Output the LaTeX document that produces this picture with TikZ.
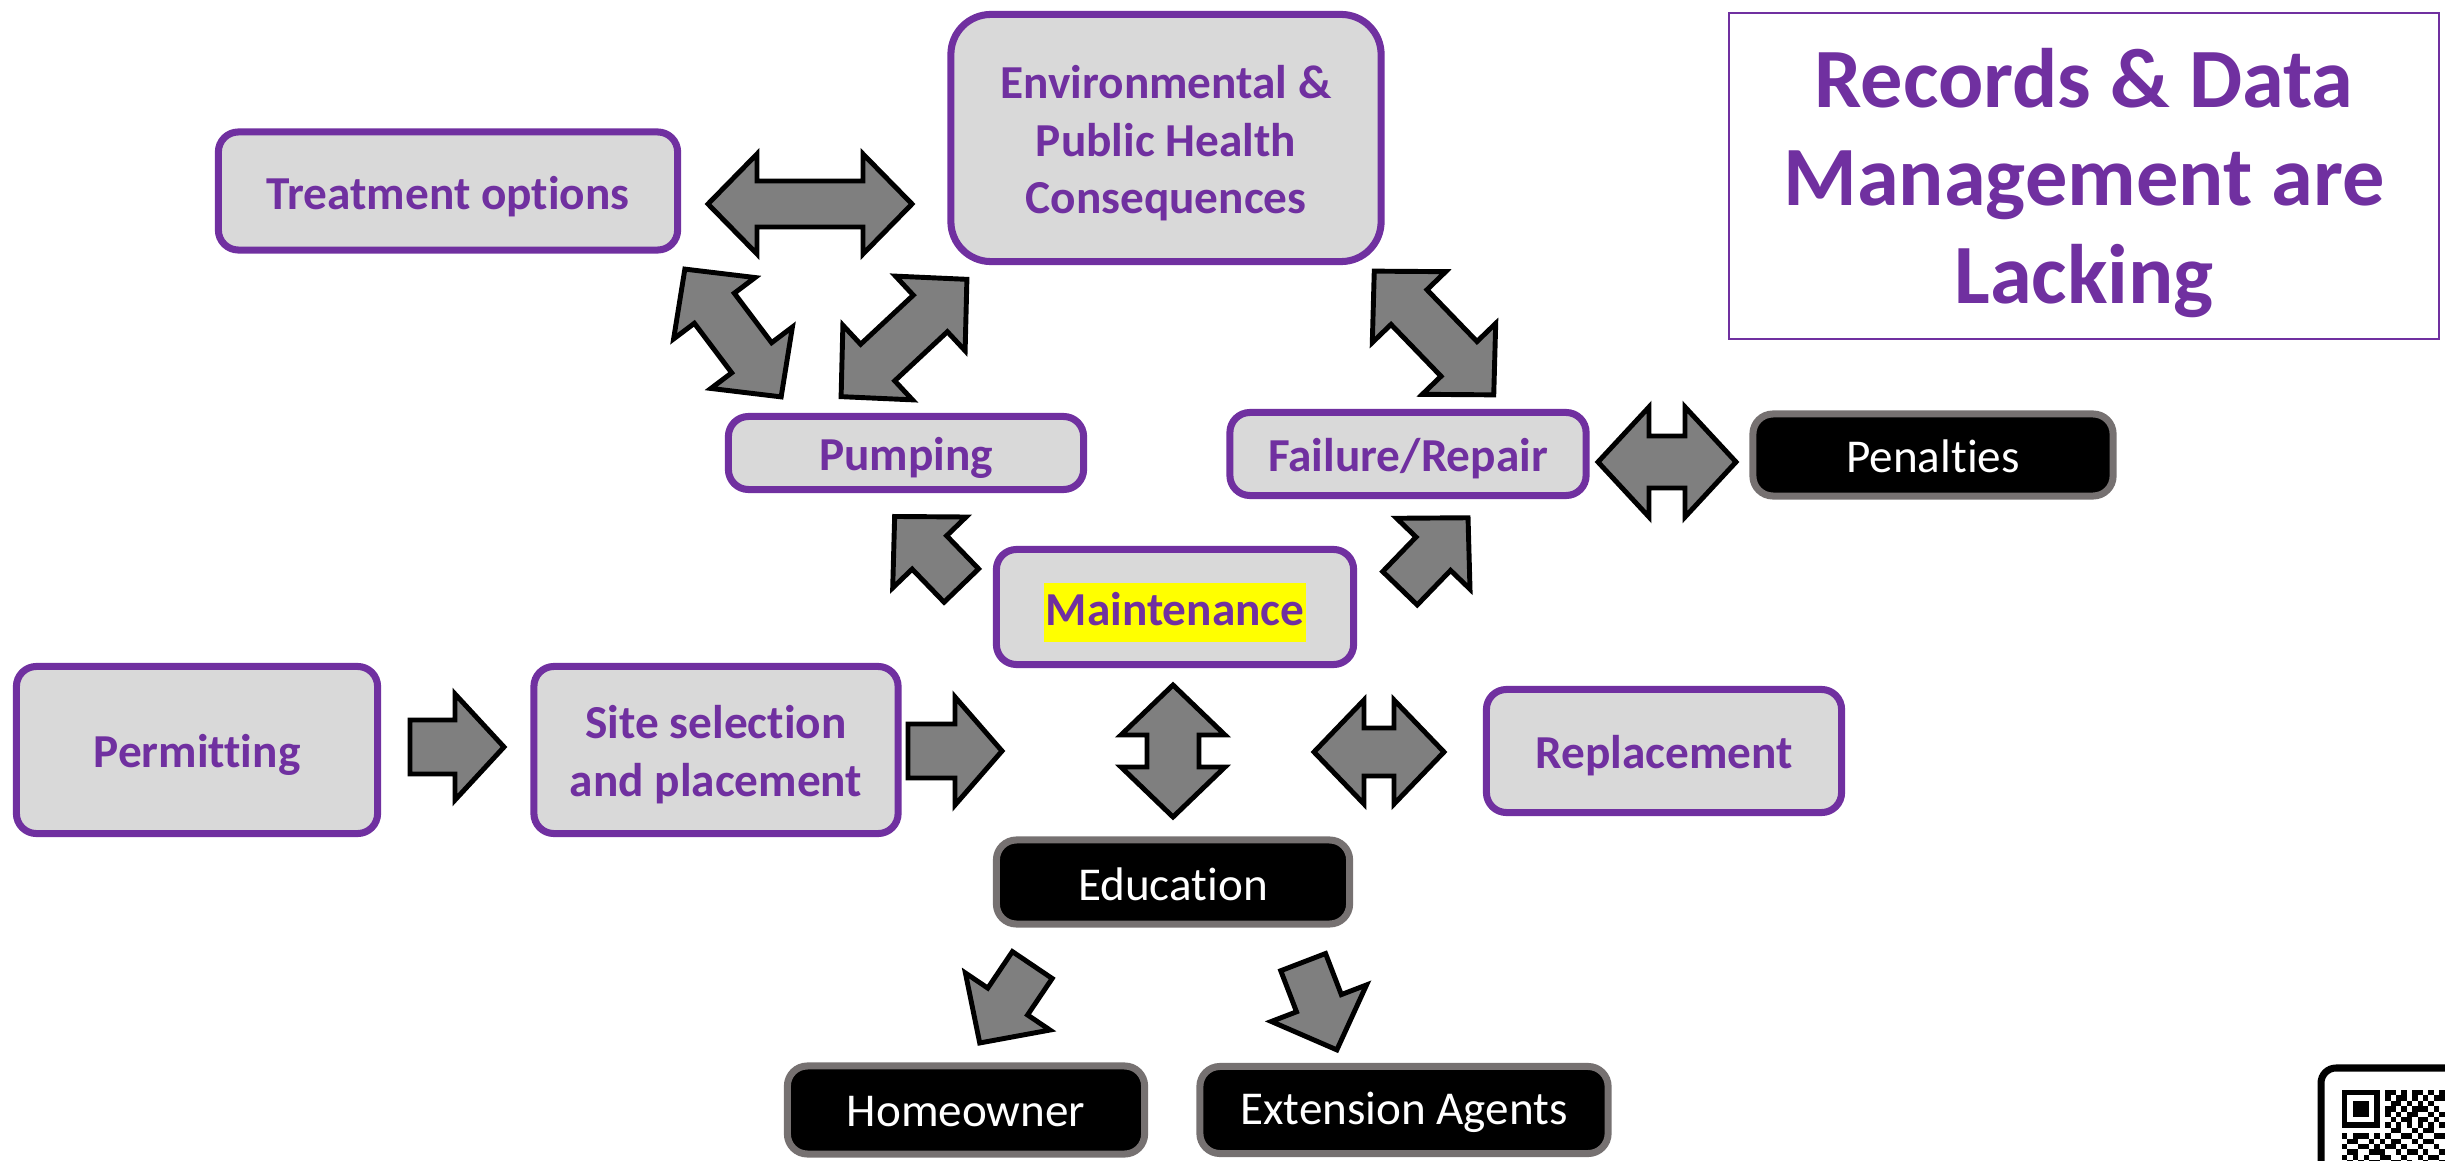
\documentclass[tikz,border=0pt]{standalone}
\usepackage{fontspec}
\setmainfont{Carlito}[Ligatures=NoCommon]
\definecolor{pur}{HTML}{7030A0}
\definecolor{boxgray}{HTML}{D9D9D9}
\definecolor{arrgray}{HTML}{7F7F7F}
\definecolor{bordgray}{HTML}{767171}
\definecolor{hl}{HTML}{FFFF00}
\newcommand\dblarr[7]{% cx cy angle halflength headlength headhalf shafthalf
  \draw[blockarrow,shift={(#1,#2)},rotate=#3] (-#4,0) -- ({-#4+#5},#6) -- ({-#4+#5},#7) -- ({#4-#5},#7) -- ({#4-#5},#6) -- (#4,0) -- ({#4-#5},-#6) -- ({#4-#5},-#7) -- ({-#4+#5},-#7) -- ({-#4+#5},-#6) -- cycle;}
\newcommand\sglarr[7]{%
  \draw[blockarrow,shift={(#1,#2)},rotate=#3] (-#4,#7) -- ({#4-#5},#7) -- ({#4-#5},#6) -- (#4,0) -- ({#4-#5},-#6) -- ({#4-#5},-#7) -- (-#4,-#7) -- cycle;}
\begin{document}
\begin{tikzpicture}[x=0.01cm,y=-0.01cm,
  pbox/.style={draw=pur, line width=2pt, fill=boxgray, rounded corners=0.2cm, inner sep=0pt},
  ptext/.style={text=pur, font={\bfseries\fontsize{13.45pt}{16.4pt}\selectfont}, align=center, inner sep=0pt},
  bbox/.style={draw=bordgray, line width=2pt, fill=black, rounded corners=0.2cm, inner sep=0pt},
  btext/.style={text=white, font={\fontsize{13.4pt}{16.4pt}\selectfont}, align=center, inner sep=0pt},
  blockarrow/.style={draw=black, line width=1.4pt, fill=arrgray, line join=miter}]
\useasboundingbox (0,0) rectangle (2445,1161);
\clip (0,0) rectangle (2445,1161);

% purple boxes
\node[pbox, minimum width=4.59cm, minimum height=1.18cm] (treat) at (448,191) {};
\node[pbox, rounded corners=0.4cm, minimum width=4.30cm, minimum height=2.47cm] (env) at (1166,138) {};
\node[pbox, minimum width=3.55cm, minimum height=0.73cm] (pump) at (906,453) {};
\node[pbox, minimum width=3.56cm, minimum height=0.83cm] (fail) at (1408,454) {};
\node[pbox, minimum width=3.57cm, minimum height=1.15cm] (maint) at (1175,607) {};
\node[pbox, minimum width=3.61cm, minimum height=1.67cm] (perm) at (197,750) {};
\node[pbox, minimum width=3.64cm, minimum height=1.67cm] (site) at (716,750) {};
\node[pbox, minimum width=3.55cm, minimum height=1.23cm] (repl) at (1664,751) {};

\node[ptext] (treatT) at ([yshift=-1.6pt]treat.center) {Treatment options};
\node[ptext] (envT) at ([yshift=-1.5pt]env.center) {Environmental \&\\Public Health\\Consequences};
\node[ptext] (pumpT) at ([yshift=-1.4pt]pump.center) {Pumping};
\node[ptext] (failT) at ([yshift=-1.4pt]fail.center) {Failure/Repair};
\node[ptext] (maintT) at ([yshift=-1.6pt]maint.center) {\setlength\fboxsep{0.6pt}\colorbox{hl}{\rule[-4.2pt]{0pt}{15.6pt}Maintenance}};
\node[ptext] (permT) at ([yshift=-1.4pt]perm.center) {Permitting};
\node[ptext] (siteT) at ([yshift=-1.4pt]site.center) {Site selection\\and placement};
\node[ptext] (replT) at ([yshift=-1.4pt]repl.center) {Replacement};

% black boxes
\node[bbox, minimum width=3.60cm, minimum height=0.82cm] (pen) at (1933,455) {};
\node[bbox, minimum width=3.53cm, minimum height=0.84cm] (edu) at (1173,882) {};
\node[bbox, minimum width=3.57cm, minimum height=0.88cm] (home) at (966,1110) {};
\node[bbox, minimum width=4.08cm, minimum height=0.87cm] (ext) at (1404,1110) {};

\node[btext] (penT) at ([yshift=-0.5pt]pen.center) {Penalties};
\node[btext] (eduT) at ([yshift=-0.6pt]edu.center) {Education};
\node[btext] (homeT) at ([yshift=-0.4pt]home.center) {Homeowner};
\node[btext] (extT) at ([yshift=-0.6pt]ext.center) {Extension Agents};

% records box
\node[draw=pur, line width=0.6pt, minimum width=7.10cm, minimum height=3.26cm, inner sep=0pt] (rec) at (2084,176) {};
\node[text=pur, align=center, inner sep=0pt, font={\bfseries\fontsize{24pt}{27.9pt}\selectfont}] (recT)
  at ([yshift=-2pt]rec.center) {Records \& Data\\Management are\\Lacking};

% block arrows
\dblarr{810}{204}{0}{102}{49}{50}{23}
\dblarr{733}{333}{127}{80}{49}{51}{25}
\dblarr{904}{338}{43}{86}{50}{51}{25}
\dblarr{1434}{333}{134}{86}{50}{51}{25}
\sglarr{928}{551}{134}{48}{50}{51}{24}
\sglarr{1434}{553}{46}{49}{50}{51}{24}
\sglarr{457}{747}{0}{47}{49}{53}{27}
\sglarr{955}{751}{0}{47}{47}{54}{27}
\dblarr{1173}{751}{90}{66}{50}{52}{26}
\dblarr{1379}{752}{0}{65}{50}{52}{24}
\dblarr{1667}{462}{0}{69}{51}{55}{26}
\sglarr{1006}{1004}{-124}{47}{50}{51}{24}
\sglarr{1320}{1006}{-69}{47}{50}{51}{24}

% QR code (partially visible)
\draw[line width=2pt, rounded corners=0.15cm] (2321,1068) rectangle (2500,1220);
\begin{scope}[shift={(2342,1090)}, x=0.054cm, y=-0.054cm]
  \fill (0,0) rectangle (7,7);
  \fill[white] (1,1) rectangle (6,6);
  \fill (2,2) rectangle (5,5);
  \foreach \c/\r in {8/0,9/0,11/0,13/0,14/0,16/0,18/0,
     8/1,10/1,11/1,13/1,15/1,17/1,18/1,
     9/2,10/2,12/2,14/2,16/2,19/2,
     8/3,9/3,11/3,13/3,14/3,15/3,17/3,
     8/4,10/4,12/4,13/4,16/4,18/4,19/4,
     9/5,11/5,12/5,14/5,15/5,17/5,
     8/6,10/6,12/6,14/6,16/6,18/6,
     9/7,10/7,13/7,15/7,16/7,19/7,
     0/8,2/8,3/8,4/8,6/8,8/8,11/8,12/8,14/8,17/8,18/8,
     1/9,2/9,5/9,7/9,9/9,10/9,13/9,15/9,16/9,19/9,
     0/10,3/10,4/10,6/10,8/10,9/10,11/10,14/10,17/10,
     1/11,2/11,5/11,6/11,7/11,10/11,12/11,13/11,15/11,18/11,19/11,
     0/12,2/12,4/12,7/12,8/12,11/12,14/12,16/12,17/12,
     1/13,3/13,5/13,6/13,9/13,10/13,12/13,15/13,18/13}
    \fill (\c,\r) rectangle ++(1,1);
\end{scope}
\end{tikzpicture}
\end{document}
